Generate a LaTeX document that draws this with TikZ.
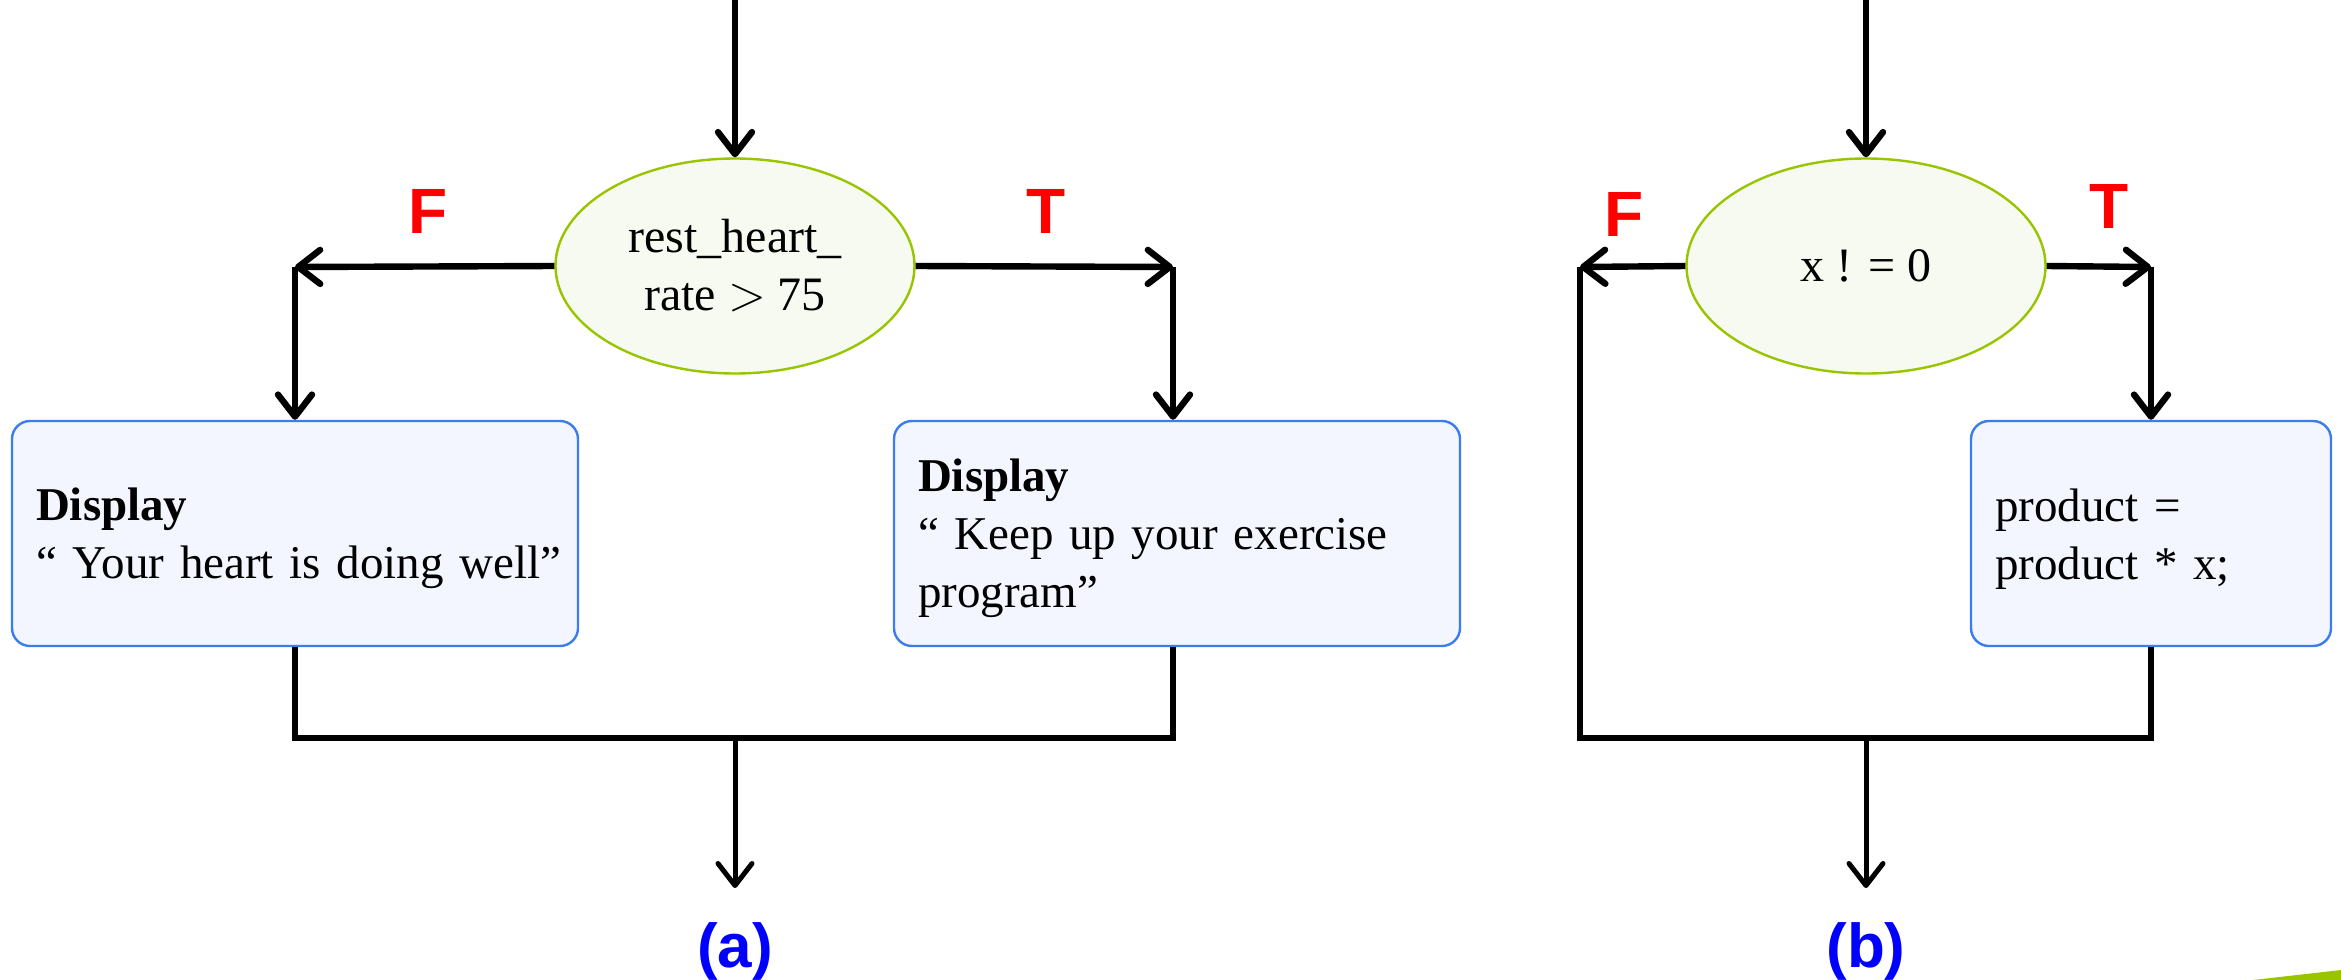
\documentclass[tikz,border=0pt]{standalone}
\usepackage{fontspec}
\setmainfont{Liberation Serif}
\newfontfamily\labelsans{Liberation Sans}
\usetikzlibrary{shapes.geometric,arrows.meta}

\definecolor{boxfill}{RGB}{243,246,254}
\definecolor{boxline}{RGB}{59,125,236}
\definecolor{condfill}{RGB}{247,250,240}
\definecolor{condline}{RGB}{153,196,0}
\definecolor{flagred}{RGB}{255,0,0}
\definecolor{capblue}{RGB}{0,0,255}

% taller first line, lowers a box's text slightly
\newcommand{\toplift}{\rule{0pt}{21.5pt}}

\begin{document}
\begin{tikzpicture}[x=0.5pt,y=-0.5pt,
  cond/.style={ellipse, draw=condline, fill=condfill, line width=1.2pt,
    minimum width=179.5pt, minimum height=107.5pt, inner sep=0pt,
    align=center, font=\fontsize{24}{29}\selectfont},
  action/.style={rectangle, rounded corners=9pt, draw=boxline, fill=boxfill,
    line width=1.2pt, minimum height=112.5pt, inner xsep=12pt, inner ysep=0pt,
    align=left, font=\fontsize{23.5}{29}\selectfont},
  flow/.style={line width=3.2pt, -{Straight Barb[length=11pt,width=17pt,round]}},
  link/.style={line width=3.2pt},
  exit/.style={line width=2.5pt, -{Straight Barb[length=11pt,width=17pt,round]}},
  flag/.style={text=flagred, font=\labelsans\bfseries\fontsize{32}{38}\selectfont},
  caption/.style={text=capblue, font=\labelsans\bfseries\fontsize{31}{37}\selectfont, anchor=base}
]
\clip (0,0) rectangle (2341,980);

% ---------- (a) if / else ----------
\node[cond] (ea) at (735,266) {rest\_heart\_\\rate $>$ 75};
\node[action, text width=259pt] (boxL) at (295,533.5)
  {\toplift\textbf{Display}\\\mbox{“ Your heart is doing well”}};
\node[action, text width=259pt] (boxR) at (1177,533.5)
  {\toplift\textbf{Display}\\\mbox{“ Keep up your exercise}\\program”};

\coordinate (ina) at (735,-10);
\coordinate (fa) at (295,267);
\coordinate (ta) at (1173,267);
\coordinate (jla) at (295,738);
\coordinate (jra) at (1173,738);
\coordinate (jma) at (735,738);
\coordinate (outa) at (735,888);

\draw[flow] (ina) -- (ea.north);
\draw[flow] (ea.west) -- (fa);
\draw[flow] (fa) -- (fa |- boxL.north);
\draw[flow] (ea.east) -- (ta);
\draw[flow] (ta) -- (ta |- boxR.north);
\draw[link] (jla |- boxL.south) -- (jla) -- (jra) -- (jra |- boxR.south);
\draw[exit] (jma) -- (outa);

\node[flag] (Fa) at (428,211) {F};
\node[flag] (Ta) at (1046,211) {T};
\node[caption] (capa) at (735,967) {(a)};

% ---------- (b) if without else ----------
\node[cond] (eb) at (1866,266) {x ! = 0};
\node[action, text width=156pt] (boxB) at (2151,533.5)
  {\toplift product =\\product * x;};

\coordinate (inb) at (1866,-10);
\coordinate (fb) at (1580,267);
\coordinate (tb) at (2151,267);
\coordinate (jlb) at (1580,738);
\coordinate (jrb) at (2151,738);
\coordinate (jmb) at (1866,738);
\coordinate (outb) at (1866,888);

\draw[flow] (inb) -- (eb.north);
\draw[flow] (eb.west) -- (fb);
\draw[link] (fb) -- (jlb) -- (jrb) -- (jrb |- boxB.south);
\draw[flow] (eb.east) -- (tb);
\draw[flow] (tb) -- (tb |- boxB.north);
\draw[exit] (jmb) -- (outb);

\node[flag] (Fb) at (1624,214) {F};
\node[flag] (Tb) at (2109,206) {T};
\node[caption] (capb) at (1866,967) {(b)};

% corner accent
\fill[condline] (2253,980) -- (2341,970) -- (2341,980) -- cycle;
\end{tikzpicture}
\end{document}
